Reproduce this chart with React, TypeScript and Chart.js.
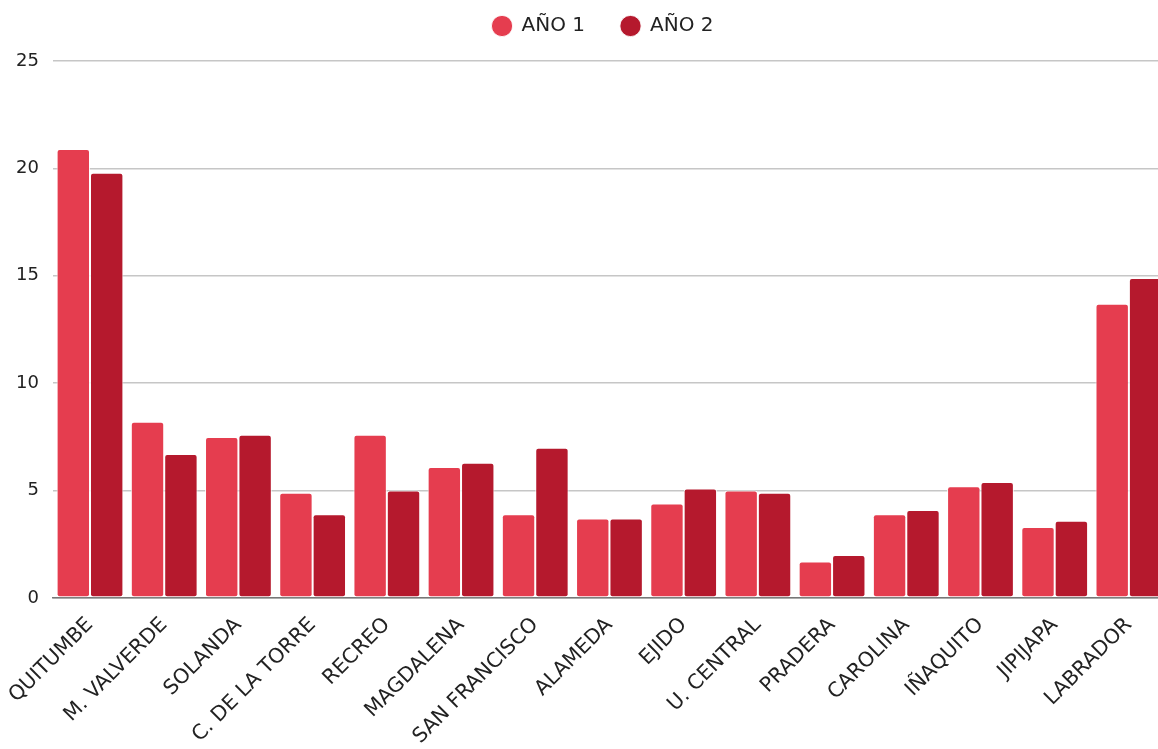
import React, { useEffect, useRef } from "react";
import { Chart, registerables } from "chart.js";

Chart.register(...registerables);

const categories = [
  "QUITUMBE",
  "M. VALVERDE",
  "SOLANDA",
  "C. DE LA TORRE",
  "RECREO",
  "MAGDALENA",
  "SAN FRANCISCO",
  "ALAMEDA",
  "EJIDO",
  "U. CENTRAL",
  "PRADERA",
  "CAROLINA",
  "IÑAQUITO",
  "JIPIJAPA",
  "LABRADOR",
];

const year1 = [20.9, 8.2, 7.5, 4.9, 7.6, 6.1, 3.9, 3.7, 4.4, 5.0, 1.7, 3.9, 5.2, 3.3, 13.7];
const year2 = [19.8, 6.7, 7.6, 3.9, 5.0, 6.3, 7.0, 3.7, 5.1, 4.9, 2.0, 4.1, 5.4, 3.6, 14.9];

const seriesNames = ["AÑO 1", "AÑO 2"];
const yTicks = [0, 5, 10, 15, 20, 25];

const FONT = "'DejaVu Sans', sans-serif";

const legendShift = {
  id: "legendShift",
  afterLayout(chart: any) {
    const lg = chart.legend;
    if (!lg) return;
    lg.top -= 15;
    lg.bottom -= 15;
    lg.left += 19;
    lg.right += 19;
  },
};

export default function App() {
  const ref = useRef<HTMLCanvasElement | null>(null);

  useEffect(() => {
    if (!ref.current) return;
    const chart = new Chart(ref.current, {
      type: "bar",
      data: {
        labels: categories,
        datasets: [
          {
            label: seriesNames[0],
            data: year1,
            backgroundColor: "#E53D4F",
            borderColor: "rgba(255,255,255,0.85)",
            borderWidth: 1,
            borderRadius: 3,
            borderSkipped: false,
            categoryPercentage: 0.9,
            barPercentage: 1.0,
          },
          {
            label: seriesNames[1],
            data: year2,
            backgroundColor: "#B5192D",
            borderColor: "rgba(255,255,255,0.85)",
            borderWidth: 1,
            borderRadius: 3,
            borderSkipped: false,
            categoryPercentage: 0.9,
            barPercentage: 1.0,
          },
        ],
      },
      plugins: [legendShift],
      options: {
        responsive: false,
        animation: false,
        layout: { padding: { left: 17, right: 2, top: -5, bottom: 0 } },
        plugins: {
          legend: {
            display: true,
            position: "top",
            labels: {
              usePointStyle: true,
              pointStyle: "circle",
              boxWidth: 19,
              boxHeight: 15,
              padding: 36,
              color: "#222",
              font: { family: FONT, size: 20 },
            },
          },
          tooltip: { enabled: false },
        },
        scales: {
          x: {
            grid: { display: false },
            border: { display: true, color: "#777", width: 1.5 },
            ticks: {
              color: "#222",
              font: { family: FONT, size: 20.5 },
              maxRotation: 45,
              minRotation: 45,
              autoSkip: false,
              padding: 7,
            },
            afterFit: (scale: any) => {
              scale.height = 151;
            },
          },
          y: {
            min: 0,
            max: 25,
            afterBuildTicks: (scale: any) => {
              scale.ticks = yTicks.map((v) => ({ value: v }));
            },
            grid: { color: "#c6c6c6", lineWidth: 1.5, drawTicks: false },
            border: { display: false },
            ticks: {
              color: "#222",
              font: { family: FONT, size: 18 },
              padding: 14,
            },
          },
        },
      },
    });
    return () => chart.destroy();
  }, []);

  return (
    <div
      style={{
        position: "absolute",
        left: 0,
        top: 0,
        width: 1158,
        height: 749,
        overflow: "hidden",
        background: "#fff",
      }}
    >
      <canvas
        ref={ref}
        width={1183}
        height={749}
        style={{ display: "block", marginLeft: -15 }}
      />
    </div>
  );
}
